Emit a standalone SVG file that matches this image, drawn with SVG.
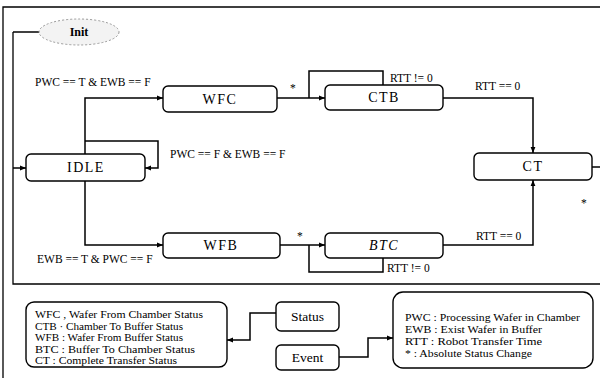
<svg xmlns="http://www.w3.org/2000/svg" width="600" height="378" viewBox="0 0 600 378">
<defs>
<marker id="arr" viewBox="0 0 8 8" refX="8" refY="4" markerWidth="6" markerHeight="6" orient="auto" markerUnits="userSpaceOnUse">
<path d="M0,0.8 L8,4 L0,7.2 z" fill="#000"/>
</marker>
</defs>
<style>
.frame{fill:none;stroke:#000;stroke-width:1.3}
.node{fill:#fff;stroke:#000;stroke-width:1.4}
.conn{fill:none;stroke:#000;stroke-width:1.5}
.nl{font-family:"Liberation Serif",serif;font-size:14px;letter-spacing:1.5px;text-anchor:middle;fill:#000}
.lb{font-family:"Liberation Serif",serif;font-size:11.5px;fill:#000}
.lg{font-family:"Liberation Serif",serif;font-size:10.5px;fill:#000}
.ev{font-family:"Liberation Serif",serif;font-size:13.5px;text-anchor:middle;fill:#000}
</style>
<rect width="600" height="378" fill="#fff"/>
<g id="frame">
<path class="frame" d="M3,378 V7 H600"/>
<path class="frame" d="M13,32 V284 H600"/>
</g>
<g id="connectors">
<path class="conn" d="M40,32 H13"/>
<path class="conn" d="M13,168 H26" marker-end="url(#arr)"/>
<path class="conn" d="M85,154 V98 H163" marker-end="url(#arr)"/>
<path class="conn" d="M85,141 H158 V168 H145" marker-end="url(#arr)"/>
<path class="conn" d="M85,181 V245 H163" marker-end="url(#arr)"/>
<path class="conn" d="M277,98 H325" marker-end="url(#arr)"/>
<path class="conn" d="M309,98 V71 H383 V85"/>
<path class="conn" d="M443,98 H533 V153" marker-end="url(#arr)"/>
<path class="conn" d="M280,245 H325" marker-end="url(#arr)"/>
<path class="conn" d="M309,245 V272 H383 V258"/>
<path class="conn" d="M443,245 H533 V180" marker-end="url(#arr)"/>
<path class="conn" d="M592,167 H600"/>
<path class="conn" d="M276,313 H250 V340 H227" marker-end="url(#arr)"/>
<path class="conn" d="M339,357 H368 V338 H393" marker-end="url(#arr)"/>
</g>
<g id="labels">
<text class="lb" x="35" y="86">PWC == T &amp; EWB == F</text>
<text class="lb" x="170" y="158">PWC == F &amp; EWB == F</text>
<text class="lb" x="37" y="263">EWB == T &amp; PWC == F</text>
<text class="lb" x="390" y="82">RTT != 0</text>
<text class="lb" x="475" y="90">RTT == 0</text>
<text class="lb" x="476" y="240">RTT == 0</text>
<text class="lb" x="387" y="272">RTT != 0</text>
<text class="lb" x="290" y="92">*</text>
<text class="lb" x="297" y="240">*</text>
<text class="lb" x="581" y="207">*</text>
</g>
<g id="init">
<ellipse cx="79" cy="32" rx="40" ry="13" fill="#f3f3f3" stroke="#999" stroke-width="1" stroke-dasharray="2,2"/>
<text x="79" y="36" font-family="Liberation Serif,serif" font-size="12" font-weight="bold" text-anchor="middle">Init</text>
</g>
<g id="idle">
<rect class="node" x="26" y="154" width="119" height="27" rx="5"/>
<text class="nl" x="86" y="172">IDLE</text>
</g>
<g id="wfc">
<rect class="node" x="163" y="86" width="114" height="26" rx="5"/>
<text class="nl" x="220" y="104">WFC</text>
</g>
<g id="ctb">
<rect class="node" x="325" y="85" width="118" height="25" rx="5"/>
<text class="nl" x="384" y="102">CTB</text>
</g>
<g id="wfb">
<rect class="node" x="163" y="233" width="117" height="25" rx="5"/>
<text class="nl" x="221" y="250">WFB</text>
</g>
<g id="btc">
<rect class="node" x="325" y="233" width="118" height="25" rx="5"/>
<text class="nl" x="384" y="250" font-style="italic">BTC</text>
</g>
<g id="ct">
<rect class="node" x="474" y="153" width="118" height="27" rx="5"/>
<text class="nl" x="533" y="171">CT</text>
</g>
<g id="legend-states">
<rect class="node" x="26" y="302" width="201" height="65" rx="8"/>
<text class="lg" x="35" y="318" textLength="168" lengthAdjust="spacingAndGlyphs">WFC , Wafer From Chamber Status</text>
<text class="lg" x="35" y="329.5" textLength="148" lengthAdjust="spacingAndGlyphs">CTB · Chamber To Buffer Status</text>
<text class="lg" x="35" y="341" textLength="148" lengthAdjust="spacingAndGlyphs">WFB : Wafer From Buffer Status</text>
<text class="lg" x="35" y="352.5" textLength="160" lengthAdjust="spacingAndGlyphs">BTC : Buffer To Chamber Status</text>
<text class="lg" x="35" y="364" textLength="142" lengthAdjust="spacingAndGlyphs">CT : Complete Transfer Status</text>
</g>
<g id="status">
<rect class="node" x="276" y="302" width="63" height="29" rx="5"/>
<text class="ev" x="307.5" y="321">Status</text>
</g>
<g id="event">
<rect class="node" x="276" y="345" width="63" height="25" rx="5"/>
<text class="ev" x="307.5" y="362">Event</text>
</g>
<g id="legend-events">
<rect class="node" x="393" y="292" width="200" height="76" rx="10"/>
<text class="lg" x="405" y="321" textLength="175" lengthAdjust="spacingAndGlyphs">PWC : Processing Wafer in Chamber</text>
<text class="lg" x="405" y="333" textLength="137" lengthAdjust="spacingAndGlyphs">EWB : Exist Wafer in Buffer</text>
<text class="lg" x="405" y="345" textLength="137" lengthAdjust="spacingAndGlyphs">RTT : Robot Transfer Time</text>
<text class="lg" x="405" y="357" textLength="127" lengthAdjust="spacingAndGlyphs">* : Absolute Status Change</text>
</g>
</svg>
